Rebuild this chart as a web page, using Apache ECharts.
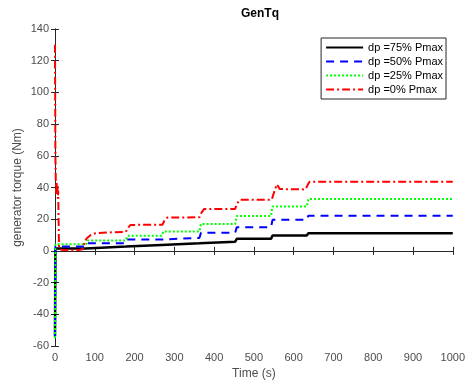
<!DOCTYPE html>
<html>
<head>
<meta charset="utf-8">
<script src="https://cdn.jsdelivr.net/npm/echarts@6/dist/echarts.min.js"></script>
<style>
  html, body { margin: 0; padding: 0; background: #fff; }
  #chart { width: 468px; height: 385px; }
</style>
</head>
<body>
<div id="chart"></div>
<script>
// series names (legend order)
const seriesNames = ['dp =75% Pmax', 'dp =50% Pmax', 'dp =25% Pmax', 'dp =0% Pmax'];

// time stamps shared by the stepped curves (s)
const tSteps = [0, 1, 78, 82, 178, 182, 268, 272, 363, 367, 453, 457, 543, 547, 633, 637, 1000];

// generator torque (Nm)
const tq75 = [-54, 1.5, 1.5, 2.7, 2.7, 3.8, 3.8, 4.8, 4.8, 5.8, 5.8, 7.6, 7.6, 9.7, 9.7, 11.2, 11.2];
const tq50 = [-55, 2.7, 2.7, 4.8, 4.8, 7.2, 7.2, 8.2, 8.2, 11.5, 11.5, 15, 15, 19.6, 19.6, 22.2, 22.2];
const tq25 = [-55, 4.2, 4.2, 6.5, 6.5, 9.5, 9.5, 12.2, 12.2, 17, 17, 22, 22, 28, 28, 32.7, 32.7];

// the 0% case has its own time base (initial spike and ramps)
const tRed = [0, 1, 2, 3, 4, 5, 6, 7, 8, 9, 10, 12, 20, 40, 60, 70, 75, 80, 90, 100, 120, 178, 185, 190,
  270, 275, 282, 363, 368, 375, 453, 458, 465, 545, 552, 558, 565, 630, 636, 640, 1000];
const tq0 = [130, 60, 44, 36, 43, 38, 42, 33, 38, 20, 3, 1, 0.5, 0.3, 0.5, 1, 6, 8, 10, 11, 11.5, 12, 15, 16.4,
  16.5, 19, 21, 21.2, 24, 26.5, 26.5, 30, 32.2, 32.3, 38, 42, 39, 38.8, 42, 43.7, 43.7];

const pairs = (t, y) => t.map((v, i) => [v, y[i]]);

const chart = echarts.init(document.getElementById('chart'));

const axisColor = '#262626';
const labelColor = '#4d4d4d';
const font = 'Liberation Sans, Arial, sans-serif';

const mkLine = (name, data, color, type, width) => ({
  name: name,
  type: 'line',
  data: data,
  showSymbol: false,
  symbol: 'none',
  lineStyle: { color: color, type: type, width: width },
  itemStyle: { color: color }
});

const option = {
  animation: false,
  title: {
    text: 'GenTq',
    left: 255,
    top: 3,
    textAlign: 'center',
    textStyle: { fontFamily: font, fontSize: 12, fontWeight: 'bold', color: '#000' }
  },
  legend: {
    orient: 'vertical',
    right: 22,
    top: 38,
    itemWidth: 37,
    itemHeight: 12,
    itemGap: 3,
    padding: [4, 3, 4, 4],
    backgroundColor: '#fff',
    borderColor: axisColor,
    borderWidth: 1,
    itemStyle: { opacity: 0 },
    textStyle: { fontFamily: font, fontSize: 11, color: '#000' },
    data: seriesNames
  },
  grid: { left: 55, right: 12, top: 29, bottom: 39 },
  xAxis: [
    {
      type: 'value',
      min: 0,
      max: 1000,
      interval: 100,
      name: 'Time (s)',
      nameLocation: 'middle',
      nameGap: 22,
      nameMoveOverlap: false,
      nameTextStyle: { fontFamily: font, fontSize: 12, color: labelColor },
      axisLine: { lineStyle: { color: axisColor } },
      axisTick: { inside: true, length: 4, lineStyle: { color: axisColor } },
      axisLabel: { fontFamily: font, fontSize: 11, color: labelColor, margin: 6, formatter: v => String(v) },
      splitLine: { show: false }
    },
    {
      type: 'value',
      position: 'top',
      min: 0,
      max: 1000,
      interval: 100,
      axisLine: { show: true, lineStyle: { color: axisColor } },
      axisTick: { inside: true, length: 4, lineStyle: { color: axisColor } },
      axisLabel: { show: false },
      splitLine: { show: false }
    }
  ],
  yAxis: [
    {
      type: 'value',
      min: -60,
      max: 140,
      interval: 20,
      name: 'generator torque (Nm)',
      nameLocation: 'middle',
      nameGap: 31,
      nameMoveOverlap: false,
      nameTextStyle: { fontFamily: font, fontSize: 12, color: labelColor },
      axisLine: { show: true, lineStyle: { color: axisColor } },
      axisTick: { show: true, inside: true, length: 4, lineStyle: { color: axisColor } },
      axisLabel: { fontFamily: font, fontSize: 11, color: labelColor, margin: 6 },
      splitLine: { show: false }
    },
    {
      type: 'value',
      position: 'right',
      min: -60,
      max: 140,
      interval: 20,
      axisLine: { show: true, lineStyle: { color: axisColor } },
      axisTick: { show: true, inside: true, length: 4, lineStyle: { color: axisColor } },
      axisLabel: { show: false },
      splitLine: { show: false }
    }
  ],
  series: [
    mkLine(seriesNames[0], pairs(tSteps, tq75), '#000000', 'solid', 2.5),
    mkLine(seriesNames[1], pairs(tSteps, tq50), '#0000ff', [8, 6], 2),
    mkLine(seriesNames[2], pairs(tSteps, tq25), '#00ff00', [2, 2], 2),
    mkLine(seriesNames[3], pairs(tRed, tq0), '#ff0000', [8, 3, 2, 3], 2)
  ]
};

chart.setOption(option);
</script>
</body>
</html>
